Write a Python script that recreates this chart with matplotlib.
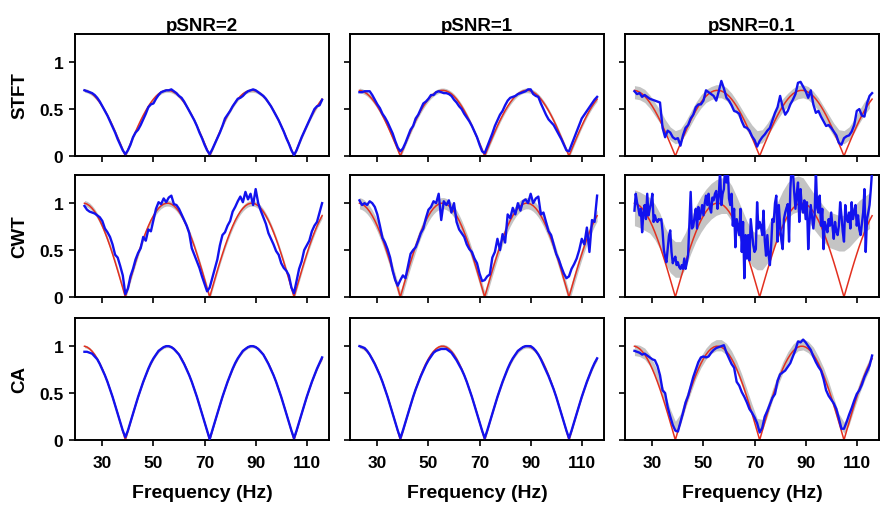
import numpy as np
import matplotlib.pyplot as plt

plt.rcParams["font.family"] = ["Liberation Sans", "DejaVu Sans"]
plt.rcParams["font.weight"] = "bold"

# frequency grids (Hz)
freq = np.arange(23, 117)                 # 1 Hz grid
freq_fine = np.arange(23, 116.5, 0.5)     # 0.5 Hz grid (CWT, pSNR=0.1)
band_freq = np.arange(23, 116, 2)         # grid of the gray bands

methods = ["STFT", "CWT", "CA"]
psnr_labels = ["pSNR=2", "pSNR=1", "pSNR=0.1"]

# theoretical curves (red)
theory_stft = [
    .699, .693, .680, .662, .637, .606, .570, .529, .483, .433,
    .379, .321, .260, .197, .133, .067, 0, .067, .133, .197,
    .260, .321, .379, .433, .483, .529, .570, .606, .637, .662,
    .680, .693, .699, .699, .693, .680, .662, .637, .606, .570,
    .529, .483, .433, .379, .321, .260, .197, .133, .067, 0,
    .067, .133, .197, .260, .321, .379, .433, .483, .529, .570,
    .606, .637, .662, .680, .693, .699, .699, .693, .680, .662,
    .637, .606, .570, .529, .483, .433, .379, .321, .260, .197,
    .133, .067, 0, .067, .133, .197, .260, .321, .379, .433,
    .483, .529, .570, .606,
]
theory_full = [
    .999, .990, .972, .945, .910, .866, .815, .756, .690, .618,
    .541, .458, .372, .282, .189, .095, 0, .095, .189, .282,
    .372, .458, .541, .618, .690, .756, .815, .866, .910, .945,
    .972, .990, .999, .999, .990, .972, .945, .910, .866, .815,
    .756, .690, .618, .541, .458, .372, .282, .189, .095, 0,
    .095, .189, .282, .372, .458, .541, .618, .690, .756, .815,
    .866, .910, .945, .972, .990, .999, .999, .990, .972, .945,
    .910, .866, .815, .756, .690, .618, .541, .458, .372, .282,
    .189, .095, 0, .095, .189, .282, .372, .458, .541, .618,
    .690, .756, .815, .866,
]

# estimated traces (blue)
stft_2 = [
    .70, .69, .68, .67, .65, .62, .58, .53, .48, .43,
    .37, .31, .25, .18, .12, .06, .02, .06, .12, .20,
    .25, .28, .33, .39, .45, .52, .55, .56, .61, .65,
    .68, .69, .70, .70, .71, .69, .67, .64, .62, .58,
    .53, .48, .43, .38, .32, .25, .19, .12, .06, .02,
    .07, .13, .19, .25, .32, .40, .44, .48, .53, .57,
    .61, .62, .64, .67, .69, .70, .71, .70, .68, .66,
    .64, .61, .57, .53, .48, .43, .38, .32, .26, .19,
    .13, .06, .01, .06, .13, .20, .26, .32, .38, .44,
    .50, .53, .54, .60,
]
stft_1 = [
    .68, .68, .69, .69, .69, .65, .60, .55, .51, .45,
    .41, .36, .30, .24, .16, .09, .05, .08, .14, .21,
    .28, .32, .40, .44, .50, .56, .58, .61, .65, .65,
    .68, .69, .68, .67, .67, .66, .64, .60, .57, .53,
    .50, .45, .41, .37, .32, .26, .20, .12, .05, .03,
    .10, .17, .24, .32, .38, .44, .48, .54, .59, .62,
    .63, .64, .66, .67, .68, .69, .71, .71, .66, .64,
    .63, .56, .50, .44, .39, .36, .33, .28, .23, .18,
    .12, .06, .05, .12, .19, .26, .33, .40, .44, .48,
    .52, .56, .60, .63,
]
stft_01 = [
    .69, .66, .67, .63, .65, .63, .61, .60, .59, .58,
    .57, .30, .20, .27, .25, .20, .18, .19, .11, .22,
    .30, .33, .40, .44, .52, .55, .55, .59, .70, .68,
    .66, .64, .59, .69, .80, .72, .62, .59, .54, .48,
    .47, .45, .37, .31, .30, .27, .21, .17, .10, .16,
    .20, .23, .27, .30, .38, .46, .52, .64, .52, .44,
    .48, .55, .60, .66, .78, .79, .74, .69, .62, .70,
    .55, .46, .48, .42, .37, .32, .33, .30, .26, .22,
    .14, .12, .19, .21, .22, .26, .33, .48, .50, .43,
    .42, .56, .64, .67,
]
cwt_2 = [
    .97, .93, .91, .90, .89, .87, .85, .81, .73, .69,
    .64, .56, .45, .42, .33, .23, .03, .09, .22, .30,
    .40, .47, .52, .64, .60, .72, .70, .82, .94, 1.01,
    .99, 1.05, 1.01, 1.06, 1.08, .99, .98, .94, .88, .82,
    .76, .68, .52, .45, .38, .31, .22, .14, .06, .10,
    .20, .30, .40, .55, .66, .69, .76, .81, .91, .96,
    1.02, 1.07, 1.01, 1.12, 1.04, 1.10, .98, 1.15, 1.00, .92,
    .85, .78, .68, .62, .56, .49, .45, .36, .31, .28,
    .23, .10, .04, .17, .30, .38, .50, .55, .60, .70,
    .76, .80, .90, 1.00,
]
cwt_1 = [
    1.03, .98, 1.00, .98, 1.02, 1.00, .96, .88, .76, .63,
    .58, .51, .42, .28, .18, .12, .18, .23, .20, .33,
    .46, .50, .53, .60, .68, .73, .84, .93, .96, 1.02,
    1.00, 1.10, .82, 1.02, .98, 1.03, .90, 1.00, .80, .72,
    .68, .64, .56, .51, .48, .41, .36, .25, .17, .18,
    .22, .24, .42, .48, .62, .50, .67, .58, .88, .84,
    .95, .88, 1.00, .92, 1.02, 1.04, 1.00, 1.10, 1.00, 1.05,
    1.07, .88, .90, .80, .70, .66, .56, .46, .40, .32,
    .25, .20, .22, .30, .35, .41, .50, .62, .56, .74,
    .48, .82, .80, 1.08,
]
cwt_01 = [
    .92, 1.10, 1.01, .95, .87, .94, .69, .90, .98, .83,
    1.10, .87, .94, 1.00, 1.10, .80, .87, .82, .80, .83,
    .82, .83, .70, .50, .43, .37, .51, .65, .71, .48,
    .36, .40, .43, .34, .37, .32, .30, .34, .30, .41,
    .30, .37, .45, .80, 1.12, .73, .75, .85, .94, .73,
    .96, .83, .90, .98, .87, 1.00, 1.08, .98, 1.10, .95,
    .90, 1.06, 1.03, 1.10, 1.13, .94, 1.08, 1.35, .98, 1.10,
    1.15, 1.40, 1.22, 1.38, 1.05, .98, 1.10, .76, .94, .53,
    .83, .75, .66, .94, .48, .80, .20, .66, .41, .66,
    .39, .83, .69, .55, .48, .51, 1.01, .73, .80, .75,
    .66, .92, .60, .44, .66, .45, .34, .55, .83, .80,
    1.00, 1.08, .59, .98, .76, .60, .51, .83, .90, .95,
    .99, .59, 1.15, 1.40, 1.35, 1.12, .94, 1.10, 1.22, .80,
    1.15, .95, .90, 1.03, .83, 1.01, .51, .80, .98, .85,
    .73, .87, 1.36, .95, .90, 1.08, .76, .94, .51, .80,
    .75, .69, .83, .76, .90, .75, .62, .80, .70, .66,
    .76, 1.01, .87, .70, .59, .98, .85, .80, .90, .73,
    1.01, .83, .90, .98, .76, .87, .72, .66, .78, .90,
    1.15, .48, .83, .90, .98, 1.15, 1.35,
]
ca_2 = [
    .94, .94, .93, .92, .89, .86, .81, .75, .69, .62,
    .54, .46, .37, .28, .19, .10, .03, .10, .19, .28,
    .37, .46, .54, .62, .69, .76, .82, .87, .91, .95,
    .97, .99, 1.00, 1.00, .99, .97, .94, .91, .86, .81,
    .75, .69, .62, .54, .46, .37, .28, .19, .10, .01,
    .10, .19, .28, .37, .46, .54, .62, .69, .76, .82,
    .87, .91, .95, .97, .99, 1.00, 1.00, .99, .97, .94,
    .91, .86, .81, .75, .69, .62, .54, .46, .37, .28,
    .19, .10, .02, .10, .19, .28, .37, .46, .54, .62,
    .69, .76, .82, .88,
]
ca_1 = [
    1.00, .99, .98, .95, .91, .86, .81, .75, .69, .62,
    .54, .46, .37, .28, .19, .10, .02, .10, .19, .28,
    .37, .46, .54, .61, .68, .74, .80, .85, .89, .93,
    .95, .96, .97, .97, .97, .95, .93, .89, .85, .80,
    .75, .69, .62, .54, .46, .37, .28, .19, .10, .02,
    .10, .19, .28, .37, .46, .54, .62, .69, .76, .82,
    .87, .91, .95, .97, .99, 1.00, 1.00, 1.00, .98, .95,
    .91, .86, .80, .74, .68, .61, .54, .46, .37, .28,
    .19, .10, .02, .10, .19, .28, .37, .46, .54, .62,
    .69, .76, .82, .87,
]
ca_01 = [
    .95, .94, .93, .91, .92, .90, .88, .86, .85, .79,
    .69, .53, .50, .35, .25, .16, .10, .09, .19, .29,
    .40, .47, .57, .67, .75, .83, .88, .89, .88, .89,
    .93, .96, .98, .99, 1.00, 1.01, .93, .87, .81, .77,
    .62, .58, .51, .46, .40, .33, .29, .24, .18, .08,
    .13, .25, .31, .38, .45, .49, .63, .70, .72, .74,
    .78, .82, .89, .96, 1.05, 1.04, 1.07, 1.04, 1.00, .96,
    .89, .83, .78, .74, .65, .53, .47, .43, .39, .33,
    .23, .12, .12, .19, .27, .34, .42, .49, .53, .59,
    .67, .73, .79, .90,
]

# centre of the gray spread for the noisiest runs
band_stft_01 = [
    .68, .67, .64, .58, .50, .42, .32, .24, .20, .22,
    .30, .40, .50, .58, .64, .67, .69, .69, .66, .60,
    .52, .43, .34, .26, .20, .21, .28, .37, .46, .54,
    .60, .65, .68, .69, .67, .62, .55, .46, .37, .28,
    .21, .20, .24, .32, .42, .51, .58,
]
band_cwt_01 = [
    .95, .93, .90, .87, .80, .70, .55, .45, .40, .40,
    .50, .65, .78, .88, .96, 1.02, 1.06, 1.08, 1.08, 1.00,
    .88, .75, .62, .52, .48, .48, .55, .68, .82, .94,
    1.03, 1.08, 1.10, 1.08, 1.00, .92, .85, .78, .72, .70,
    .68, .68, .72, .78, .84, .88, .92,
]
band_ca_01 = [
    .96, .95, .92, .85, .74, .60, .43, .27, .14, .22,
    .40, .56, .71, .83, .92, .98, 1.01, 1.01, .97, .89,
    .78, .64, .48, .32, .17, .16, .31, .48, .63, .77,
    .88, .96, 1.01, 1.02, .99, .93, .83, .71, .56, .39,
    .22, .13, .22, .39, .55, .69, .81,
]
# half width of the gray spread per panel
band_half = [
    [0.02, 0.025, 0.07],
    [0.03, 0.06, 0.19],
    [0.015, 0.02, 0.06],
]

blue_traces = [
    [(freq, stft_2), (freq, stft_1), (freq, stft_01)],
    [(freq, cwt_2), (freq, cwt_1), (freq_fine, cwt_01)],
    [(freq, ca_2), (freq, ca_1), (freq, ca_01)],
]
band_mids = [
    [None, None, band_stft_01],
    [None, None, band_cwt_01],
    [None, None, band_ca_01],
]
theories = [theory_stft, theory_full, theory_full]


def main():
    W, H = 881, 506
    fig = plt.figure(figsize=(W / 100, H / 100), dpi=100)

    lefts = [75, 350, 625]
    tops = [35, 176, 319]
    aw, ah = 254, 122

    for r, method in enumerate(methods):
        for c, label in enumerate(psnr_labels):
            ax = fig.add_axes([lefts[c] / W, 1 - (tops[r] + ah) / H, aw / W, ah / H])
            theory = np.array(theories[r])
            half = band_half[r][c]
            mid = band_mids[r][c]
            if mid is None:
                ax.fill_between(freq, theory - half, theory + half,
                                color="#c4c4c4", lw=0, zorder=1)
            else:
                mid = np.array(mid)
                ax.fill_between(band_freq, mid - half, mid + half,
                                color="#c4c4c4", lw=0, zorder=1)
            ax.plot(freq, theory, color="#e3301f", lw=1.1, zorder=2)
            x_blue, blue = blue_traces[r][c]
            ax.plot(x_blue, blue, color="#1212ee", lw=1.7, zorder=3)

            ax.set_xlim(19.3, 118.7)
            ax.set_ylim(0, 1.3)
            ax.set_xticks([30, 50, 70, 90, 110])
            ax.set_yticks([0, 0.5, 1])
            ax.set_yticklabels(["0", "0.5", "1"])
            ax.tick_params(direction="out", length=4, width=1.2,
                           labelsize=12.5)
            ax.tick_params(axis="x", pad=7)
            ax.tick_params(axis="y", pad=4.5)
            for s in ax.spines.values():
                s.set_linewidth(1.4)
            if c > 0:
                ax.set_yticklabels([])
            if r < 2:
                ax.set_xticklabels([])
            else:
                ax.set_xlabel("Frequency (Hz)", fontsize=14, fontweight="bold",
                              labelpad=10)
            if r == 0:
                ax.set_title(label, fontsize=13.5, fontweight="bold", pad=3)
        fig.text(20 / W, 1 - (tops[r] + ah / 2) / H, method, rotation=90,
                 ha="center", va="center", fontsize=13.5, fontweight="bold")

    fig.savefig("out.png", dpi=100)
    plt.close(fig)


main()
